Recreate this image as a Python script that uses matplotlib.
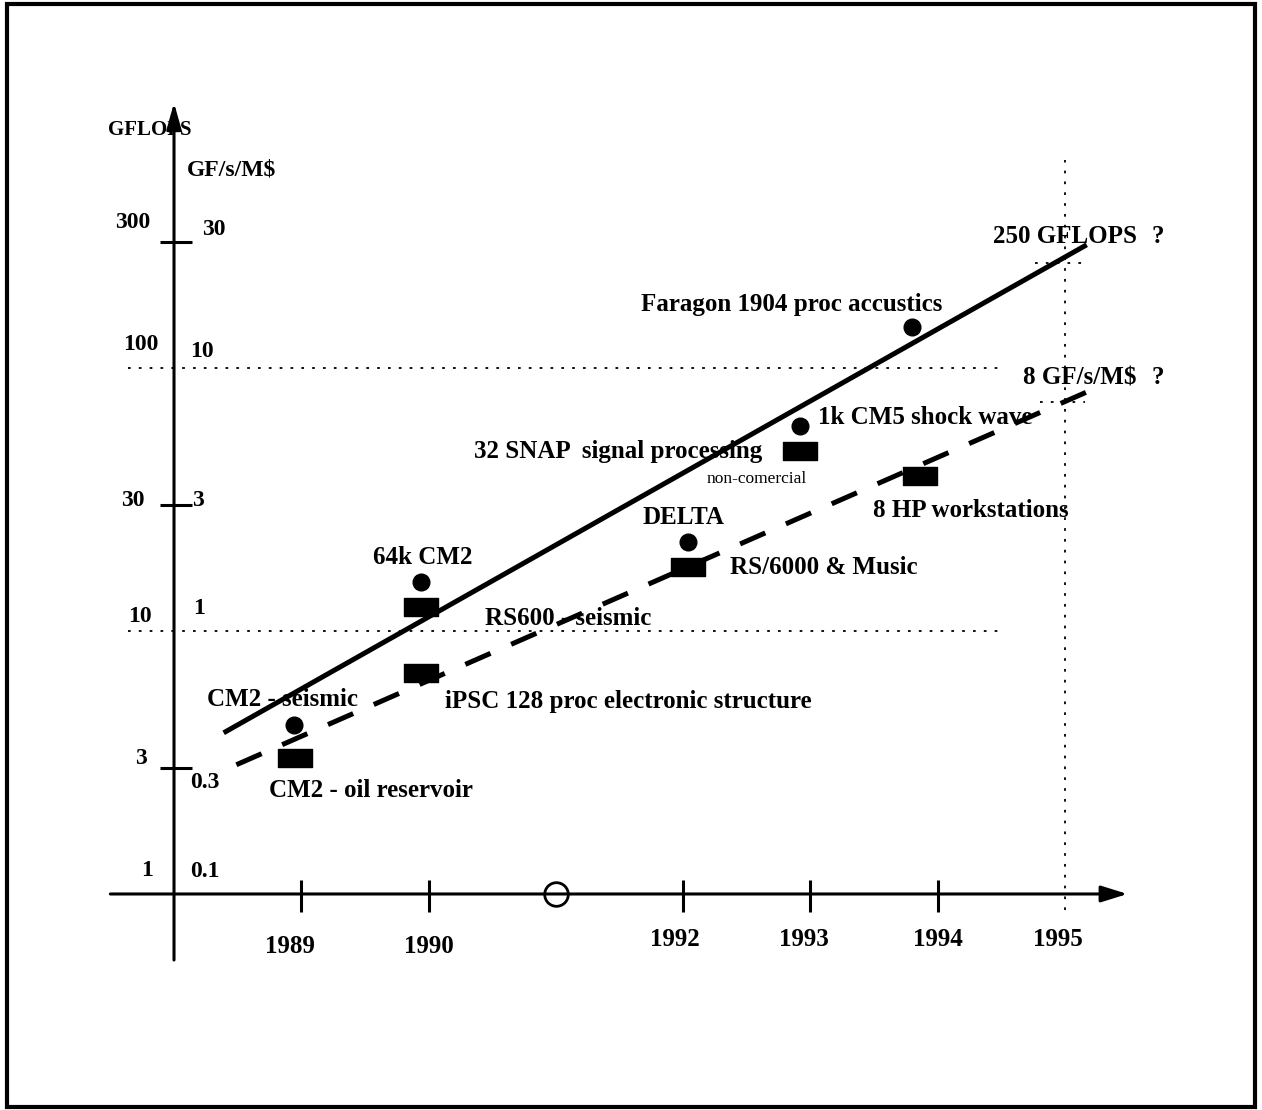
import numpy as np
import matplotlib
matplotlib.use("Agg")
import matplotlib.pyplot as plt
from matplotlib.path import Path
from matplotlib.patches import Rectangle

plt.rcParams['font.family'] = ['Liberation Serif', 'DejaVu Serif']
plt.rcParams['font.weight'] = 'bold'

# --- data ---
# circles: performance in GFLOPS
perf_years = [1988.94, 1989.94, 1992.04, 1992.92, 1993.80]
perf_gflops = [4.4, 15.4, 21.8, 60.0, 143.0]
# rectangles: price/performance in GF/s/M$
price_years = [1988.95, 1989.94, 1989.94, 1992.04, 1992.92, 1993.86]
price_gfsm = [0.33, 1.23, 0.69, 1.75, 4.83, 3.88]

# trend lines
trend_perf_years = [1988.39, 1995.17]
trend_perf = [4.1, 294.0]
trend_price_years = [1988.49, 1995.17]
trend_price = [0.31, 8.1]

gflops_ticks = [1, 3, 10, 30, 100, 300]
gflops_labels = ['1', '3', '10', '30', '100', '300']
price_ticks = [0.1, 0.3, 1, 3, 10, 30]
price_labels = ['0.1', '0.3', '1', '3', '10', '30']
year_ticks = [1989, 1990, 1992, 1993, 1994, 1995]
year_labels = ['1989', '1990', '1992', '1993', '1994', '1995']
origin_year = 1988
circle_year = 1991

target_perf = 250.0
target_price = 7.43  # drawn slightly under 8 in the picture

labels = [
    ("Faragon 1904 proc accustics", 1991.67, 174),
    ("1k CM5 shock wave", 1993.06, 64.6),
    ("32 SNAP  signal processing", 1990.36, 48.0),
    ("DELTA", 1991.68, 26.9),
    ("8 HP workstations", 1993.49, 28.8),
    ("64k CM2", 1989.56, 19.0),
    ("RS/6000 & Music", 1992.37, 17.5),
    ("RS600 - seismic", 1990.44, 11.2),
    ("iPSC 128 proc electronic structure", 1990.13, 5.37),
    ("CM2 - seismic", 1988.26, 5.47),
    ("CM2 - oil reservoir", 1988.75, 2.48),
]

# price axis is GFLOPS / 10
price_scale = 10.0

# --- figure ---
fig = plt.figure(figsize=(12.62, 11.10), dpi=100)
ax = fig.add_axes([0, 0, 1, 1])
ax.set_yscale('log')
ax.set_xlim(1986.633, 1996.547)
ax.set_ylim(10 ** -0.8213, 10 ** 3.399)
ax.axis('off')

fig.patches.append(Rectangle((7 / 1262, 3 / 1110), 1248 / 1262, 1103 / 1110,
                             transform=fig.transFigure, fill=False,
                             lw=3, ec='black'))

fs = 18
tfs = 17
tk = dict(color='black', lw=2.2, solid_capstyle='butt')

# axes with arrows
ax.annotate('', xy=(origin_year, 1019), xytext=(origin_year, 0.561),
            arrowprops=dict(arrowstyle='-|>,head_length=1.6,head_width=0.45',
                            lw=2.2, color='black', shrinkA=0, shrinkB=0))
ax.annotate('', xy=(1995.49, 1.0), xytext=(1987.50, 1.0),
            arrowprops=dict(arrowstyle='-|>,head_length=1.6,head_width=0.5',
                            lw=2.2, color='black', shrinkA=0, shrinkB=0))

# x ticks (no tick at 1995, a dotted line instead)
for yr in year_ticks[:-1]:
    ax.plot([yr, yr], [0.855, 1.13], **tk)
year_off = [(-11, -53), (0, -53), (-8, -46), (-7, -46), (0, -46), (-7, -46)]
for yr, lab, off in zip(year_ticks, year_labels, year_off):
    ax.annotate(lab, (yr, 1.0), xytext=off, textcoords='offset pixels',
                ha='center', va='center', fontsize=fs)

# open circle at 1991
ax.plot([circle_year], [1.0], 'o', ms=17, mfc='white', mec='black', mew=2)

# y ticks at 3, 30, 300
for v in gflops_ticks[1::2]:
    ax.plot([origin_year - 0.11, origin_year + 0.14], [v, v], **tk)

left_off = [(-21, 23), (-27, 10), (-22, 14), (-29, 5), (-16, 23), (-24, 20)]
for v, lab, off in zip(gflops_ticks, gflops_labels, left_off):
    ax.annotate(lab, (origin_year, v), xytext=off, textcoords='offset pixels',
                ha='right', va='center', fontsize=tfs)
right_off = [(16, 22), (16, -14), (19, 22), (18, 5), (16, 16), (28, 13)]
for v, lab, off in zip(price_ticks, price_labels, right_off):
    ax.annotate(lab, (origin_year, v * price_scale), xytext=off,
                textcoords='offset pixels', ha='left', va='center', fontsize=tfs)

ax.annotate('GFLOPS', (origin_year, 1019), xytext=(-66, -27),
            textcoords='offset pixels', ha='left', va='center', fontsize=15)
ax.annotate('GF/s/M$', (origin_year, 1019), xytext=(13, -67),
            textcoords='offset pixels', ha='left', va='center', fontsize=tfs)

# dotted guide lines
dot = dict(color='black', lw=1.3, ls=(0, (1.5, 4.5)))
for v in [10, 100]:
    ax.plot([1987.64, 1994.47], [v, v], **dot)
ax.plot([year_ticks[-1], year_ticks[-1]], [0.87, 618], **dot)
ax.plot([1994.76, 1995.16], [target_perf, target_perf], **dot)
ax.plot([1994.80, 1995.16], [target_price * price_scale] * 2, **dot)

# trend lines
ax.plot(trend_perf_years, trend_perf, color='black', lw=3.6,
        solid_capstyle='butt')
ax.plot(trend_price_years, np.array(trend_price) * price_scale, color='black',
        lw=3.6, ls=(0, (5.5, 4.5)), dash_capstyle='butt')

# markers
rect = Path([(-1, -0.54), (1, -0.54), (1, 0.54), (-1, 0.54), (-1, -0.54)],
            [Path.MOVETO, Path.LINETO, Path.LINETO, Path.LINETO, Path.CLOSEPOLY])
ax.plot(perf_years, perf_gflops, 'o', ms=12, color='black', ls='none')
ax.plot(price_years, np.array(price_gfsm) * price_scale, marker=rect, ms=25,
        color='black', ls='none')

# point labels
for txt, x, y in labels:
    ax.text(x, y, txt, ha='left', va='center', fontsize=fs)
ax.text(1992.58, 37.8, 'non-comercial', ha='center', va='center',
        fontsize=12.5, fontweight='normal')

ax.text(1994.43, 315, '250 GFLOPS', ha='left', va='center', fontsize=fs)
ax.text(1995.68, 315, '?', ha='left', va='center', fontsize=fs)
ax.text(1994.67, 91.6, '8 GF/s/M$', ha='left', va='center', fontsize=fs)
ax.text(1995.68, 91.6, '?', ha='left', va='center', fontsize=fs)

fig.savefig('out.png', dpi=100)
